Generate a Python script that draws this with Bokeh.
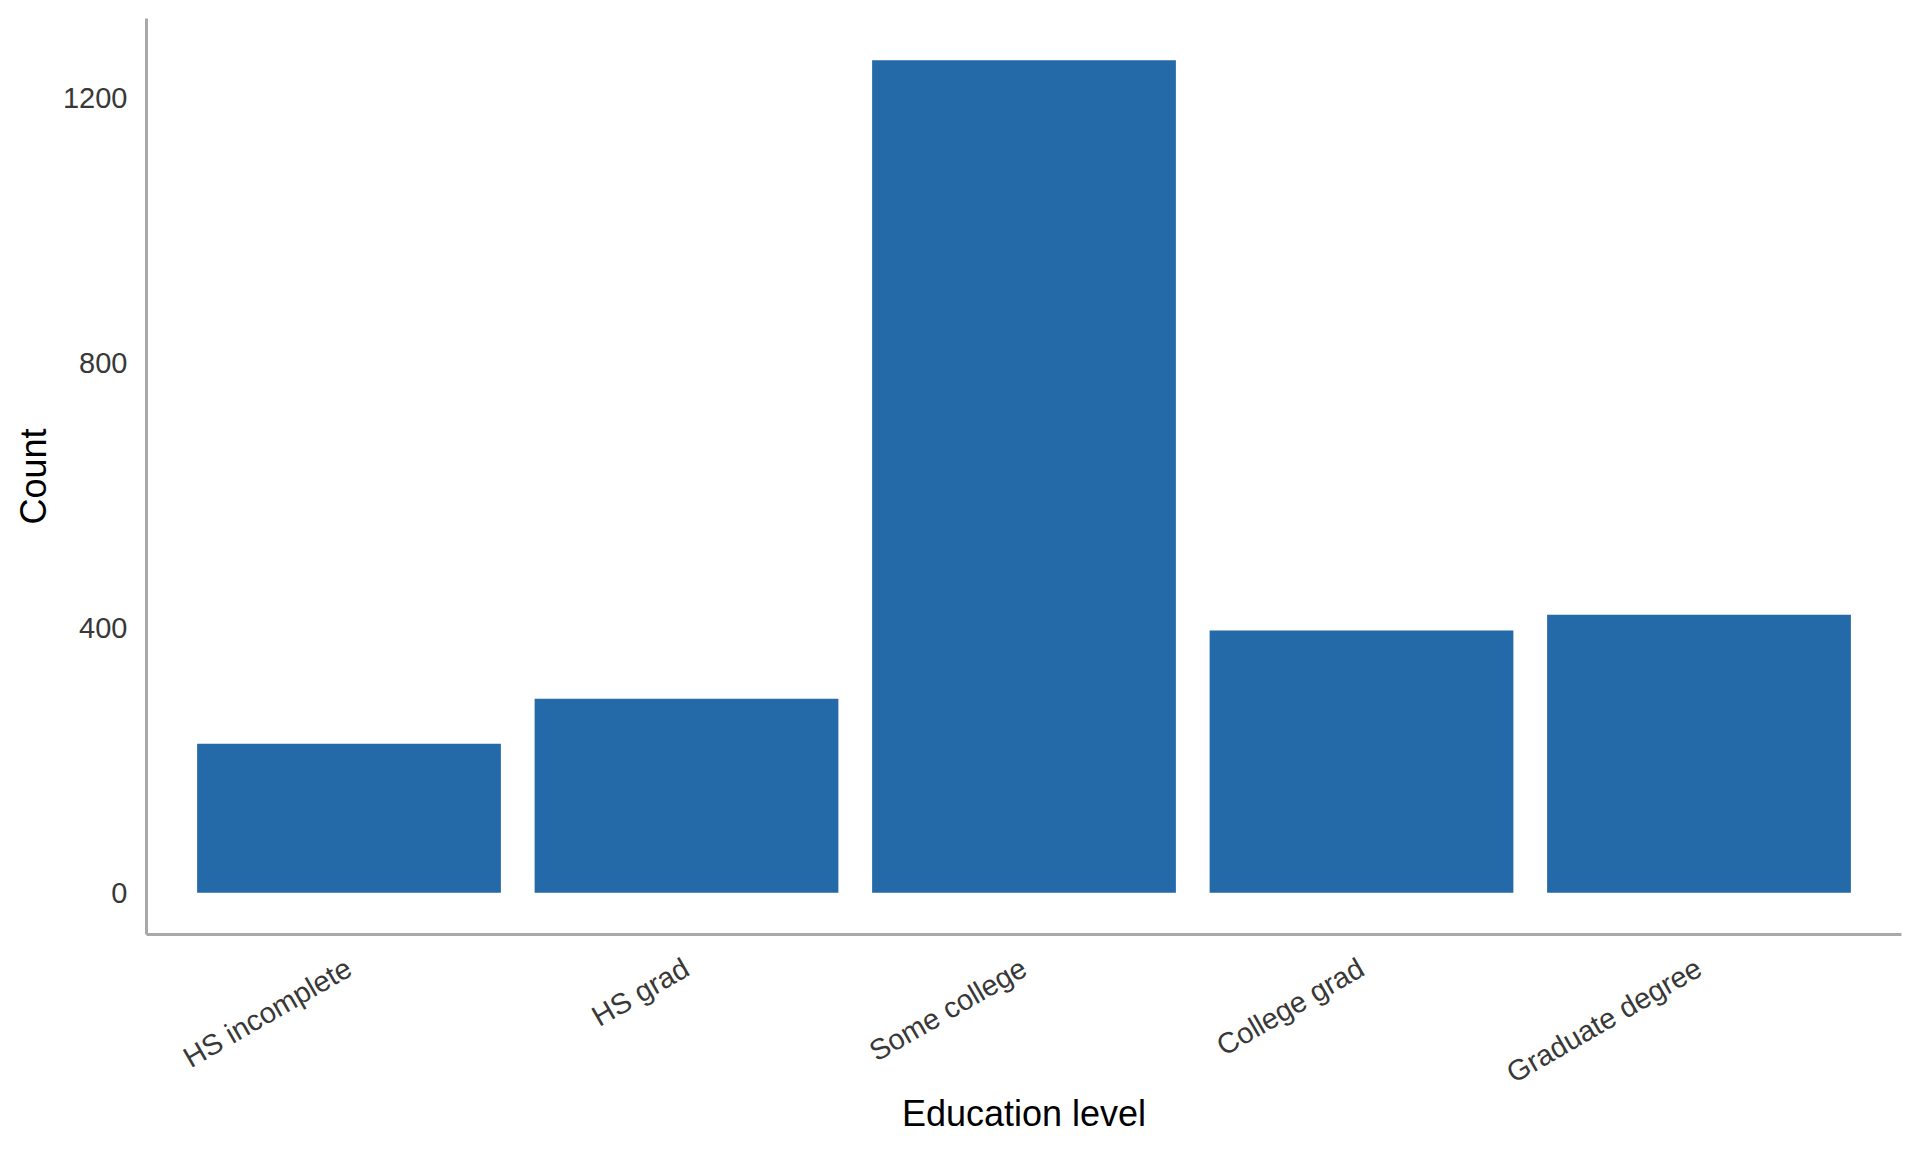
from bokeh.plotting import figure
from bokeh.models import FactorRange, FixedTicker, ColumnDataSource
from bokeh.embed import file_html
from bokeh.resources import INLINE
import math

categories = ["HS incomplete", "HS grad", "Some college", "College grad", "Graduate degree"]
counts = [225, 293, 1257, 396, 420]
y_ticks = [0, 400, 800, 1200]

bar_color = "#2469A8"
font = "Liberation Sans"

src = ColumnDataSource(dict(cat=categories, n=counts))

p = figure(
    x_range=FactorRange(factors=categories, range_padding=0.04, range_padding_units="percent"),
    width=1904, height=1136,
    output_backend="svg", toolbar_location=None,
    min_border_left=146, min_border_right=3, min_border_top=18, min_border_bottom=100,
)
p.y_range.range_padding = 0.1

p.vbar(x="cat", top="n", bottom=0, width=0.9, source=src, color=bar_color, line_color=None)

p.outline_line_color = None
p.background_fill_color = "white"
p.border_fill_color = "white"
p.xgrid.grid_line_color = None
p.ygrid.grid_line_color = None

for ax in (p.xaxis[0], p.yaxis[0]):
    ax.axis_line_color = "#A9A9A9"
    ax.axis_line_width = 3
    ax.major_tick_line_color = None
    ax.minor_tick_line_color = None
    ax.major_tick_out = 0
    ax.major_tick_in = 0
    ax.major_label_text_font = font
    ax.major_label_text_font_size = "29px"
    ax.major_label_text_color = "#383838"
    ax.axis_label_text_font = font
    ax.axis_label_text_font_size = "36px"
    ax.axis_label_text_font_style = "normal"
    ax.axis_label_text_color = "black"

p.yaxis.ticker = FixedTicker(ticks=y_ticks)
p.yaxis.major_label_standoff = 19
p.yaxis.axis_label = "Count"
p.yaxis.axis_label_standoff = 6

p.xaxis.axis_label = "Education level"
p.xaxis.major_label_orientation = math.pi / 6
p.xaxis.major_label_standoff = 31
p.xaxis.axis_label_standoff = -13

open("out.html", "w").write(file_html(p, INLINE))
